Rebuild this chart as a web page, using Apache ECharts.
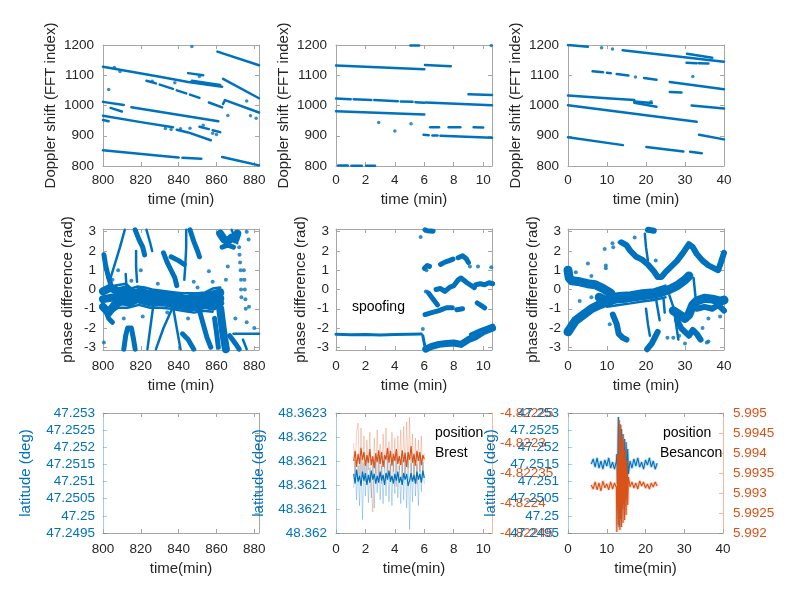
<!DOCTYPE html>
<html><head><meta charset="utf-8">
<script src="https://cdn.jsdelivr.net/npm/echarts@6/dist/echarts.min.js"></script>
<style>html,body{margin:0;padding:0;background:#fff}#c{width:800px;height:600px}</style>
</head><body><div id="c"></div>
<script>
// ---------- tick values / labels ----------
const xTicksA = [800, 820, 840, 860, 880];
const xLabelsA = ['800', '820', '840', '860', '880'];
const xTicksB = [0, 2, 4, 6, 8, 10];
const xLabelsB = ['0', '2', '4', '6', '8', '10'];
const xTicksC = [0, 10, 20, 30, 40];
const xLabelsC = ['0', '10', '20', '30', '40'];
const dopplerTicks = [800, 900, 1000, 1100, 1200];
const dopplerLabels = ['800', '900', '1000', '1100', '1200'];
const phaseTicks = [-3, -2, -1, 0, 1, 2, 3];
const phaseLabels = ['-3', '-2', '-1', '0', '1', '2', '3'];
const latTicksBes = [47.2495, 47.25, 47.2505, 47.251, 47.2515, 47.252, 47.2525, 47.253];
const latLabelsBes = ['47.2495', '47.25', '47.2505', '47.251', '47.2515', '47.252', '47.2525', '47.253'];
const latTicksBrest = [48.362, 48.36205, 48.3621, 48.36215, 48.3622, 48.36225];
const latLabelsBrest = ['48.362', '48.3621', '48.3621', '48.3621', '48.3622', '48.3623'];
const lonTicksBrest = [-4.82245, -4.8224, -4.82235, -4.8223, -4.82225];
const lonLabelsBrest = ['-4.82245', '-4.8224', '-4.82235', '-4.8223', '-4.82225'];
const lonTicksBes = [5.992, 5.9925, 5.993, 5.9935, 5.994, 5.9945, 5.995];
const lonLabelsBes = ['5.992', '5.9925', '5.993', '5.9935', '5.994', '5.9945', '5.995'];
const emptyRightTicks = [0, 1, 2, 3, 4, 5, 6];

// ---------- Doppler tracks (time, FFT index) ----------
const doppler1Tracks = [
  [[860.5,1178],[882.5,1133]],
  [[800,1128],[812,1115],[830,1095],[845,1078],[863,1062]],
  [[823,1082],[828,1073]], [[830,1069],[837,1055]], [[839,1050],[844,1040]],
  [[846,1036],[851,1025]], [[856,1010],[863,994]],
  [[845,1107],[853,1100]],
  [[847,1082],[862,1068]],
  [[863.5,1088],[882.5,1024]],
  [[863.5,1005],[864.5,1018],[882.5,977]],
  [[800,1012],[811,1002]],
  [[815,994],[861,948]],
  [[804,992],[810,980]],
  [[800,966],[820,945],[837,928]],
  [[839,920],[845,911],[857,885]],
  [[800,952],[803,948]],
  [[800,852],[815,843],[830,834],[840,828]],
  [[842,827],[852,824]],
  [[863,830],[870,820],[882.5,802]],
  [[851,930],[856,922]], [[858,918],[862,912]]
];
const doppler1Dots = [[847,1195],[803,1053],[876,1015],[878,966],[881,958],[866,967],[833,924],[836,921],[841,923],[846,925],[853,935],[858,908],[860,904],[806,1126],[809,1112],[851,1096],[826,1080],[838,1075]];

const doppler2Tracks = [
  [[0,1132],[6,1120]],
  [[6.05,1134],[7.8,1130]],
  [[0,1023],[1.0,1021]], [[1.2,1021],[2.4,1018]], [[2.6,1018],[4.2,1014]],
  [[4.4,1013],[5.2,1012]], [[5.4,1011],[6,1009]],
  [[6.1,1010],[10.6,1001]],
  [[0,981],[6,970]],
  [[9.0,1037],[10.6,1035]],
  [[5.95,903],[6.3,902]], [[6.55,901],[6.9,901]], [[7.1,900],[10.6,893]],
  [[6.4,928],[7.0,928]], [[7.65,928],[8.45,928]], [[9.35,928],[10.0,927]],
  [[0.15,802],[0.8,802]], [[1.05,801],[1.75,801]], [[2.05,801],[2.65,801]],
  [[5.05,1198],[5.65,1198]]
];
const doppler2Dots = [[2.9,944],[4.0,916],[5.1,940],[10.55,1198]];

const doppler3Tracks = [
  [[0,1200],[5.1,1194]],
  [[14,1183],[40,1145]],
  [[30.5,1171],[37,1158]],
  [[30.4,1141],[33,1140]], [[33.5,1140],[36,1139]],
  [[6.3,1113],[9,1110]], [[10,1108],[11,1107]], [[12.5,1104],[15.5,1099]], [[19.5,1091],[22.7,1085]],
  [[26.1,1078],[40,1054]],
  [[26.1,1045],[29.1,1043]],
  [[0,1033],[10,1024],[17,1018]],
  [[17,1013],[21.5,1008]],
  [[17,1009],[22.7,996]],
  [[0,1001],[33,946]],
  [[31.7,1000],[40,990]],
  [[0,895],[14.1,869]],
  [[20.1,863],[29.6,848]],
  [[31.3,847],[34.3,842]],
  [[33.6,903],[40,888]]
];
const doppler3Dots = [[8.6,1191],[11.4,1187],[32,1096],[17.3,1094],[21.3,1012]];

// ---------- phase difference clouds (time, rad) ----------
const phase1Heavy = [
  [[800,-0.1],[804,0.1],[808,-0.1],[812,0.0],[816,-0.2],[820,-0.1],[824,-0.25],[828,-0.2],[832,-0.3],[836,-0.35],[840,-0.4],[844,-0.5],[848,-0.4],[852,-0.45],[856,-0.3],[860,-0.2],[862,-0.15]],
  [[800,-0.5],[806,-0.4],[812,-0.3],[818,-0.35],[824,-0.45],[830,-0.45],[836,-0.55],[842,-0.6],[848,-0.65],[854,-0.6],[860,-0.5],[862,-0.45]],
  [[800,-0.9],[803,-1.2],[806,-0.8],[810,-0.6],[814,-0.7],[818,-0.5],[822,-0.6],[826,-0.7],[830,-0.65],[834,-0.7],[838,-0.8],[842,-0.85],[846,-0.95],[850,-0.9],[854,-0.8],[858,-0.9],[862,-0.7]],
  [[862,-1.0],[863,-1.8],[864,-2.5],[865,-3.1]],
  [[862,2.9],[864,2.6],[866,2.5],[868,2.7],[870,2.6],[871,2.9]]
];
const phase1Medium = [
  [[800.5,1.8],[801.5,1.2],[803,0.6],[805,0.0]],
  [[832,1.9],[834,1.4],[836,1.0],[838,0.6],[839,0.2]],
  [[846,3.1],[848,2.5],[850,2.0],[851,1.7]],
  [[836,1.7],[840,1.5],[843,1.3]],
  [[811,-3.1],[812,-2.4],[813,-2.0],[815,-2.0],[816,-2.5],[817,-3.1]],
  [[842,-2.3],[845,-2.6],[848,-3.1]],
  [[851,-1.1],[853,-1.8],[855,-2.5],[857,-3.0]],
  [[859,-1.5],[860,-2.2],[861,-3.0]],
  [[867,-2.4],[870,-2.8],[872,-3.1]],
  [[817,3.1],[819,2.6],[821,2.2],[822,1.8]],
  [[863,2.2],[866,2.3],[869,2.2]],
  [[801,-1.0],[803,-1.5],[805,-1.7]]
];
const phase1Light = [
  [[811.5,3.1],[809,2.2],[806.5,1.4],[804,0.6]],
  [[823,3.1],[825,2.4],[826,2.0]],
  [[817.5,2.0],[817.5,1.2],[818,0.4]],
  [[844,3.1],[844,2.2],[843.5,1.2],[843,0.5]],
  [[826.5,-0.9],[825,-2.0],[823.5,-3.1]],
  [[828,-3.1],[832,-2.0],[837,-0.9]],
  [[837,-0.9],[839,-2.0],[841,-3.1]],
  [[874,-2.6],[876,-3.1]],
  [[869,-2.3],[882.5,-2.3]],
  [[868,3.1],[871,2.4]],
  [[812,0.8],[812.5,0.0]],
  [[806,0.2],[809,0.25],[812,0.3],[815,0.05],[818,0.15],[822,0.1],[826,0.0],[830,-0.05],[834,-0.1],[838,-0.15],[842,-0.2],[846,-0.2],[850,-0.2],[854,-0.15],[858,0.05],[862,0.1]],
  [[802,-1.35],[808,-0.95],[813,-0.95],[819,-0.8],[825,-0.95],[831,-0.95],[836,-1.0],[842,-1.1],[848,-1.2],[853,-1.1],[858,-1.15]]
];
const phase1Dots = [[872,2.2],[872.2,1.8],[872.5,1.4],[872.8,1.0],[873,0.5],[873,0.0],[873.2,-0.4],[874.5,1.0],[874.8,0.5],[875,0.0],[875.3,-0.5],[875.5,-1.0],[876,3.0],[877,2.6],[877.2,-0.9],[800.5,-2.75],[856,0.95],[866,1.2],[865,0.5],[848,0.4],[850,0.1],[834,-1.2],[820,1.0],[808,1.0],[876,-1.7],[880,-2.0],[870,-1.5],[858,0.4],[805,0.5],[815,0.45],[829,0.3],[839,0.3],[845,-1.5],[821,-1.4],[811,-1.5]];

const phase2Heavy = [
  [[6.1,-3.1],[6.5,-2.95],[7.0,-2.85],[7.5,-2.8],[8.0,-2.78],[8.5,-2.85],[9.0,-2.6],[9.5,-2.45],[10.0,-2.2],[10.65,-2.0]]
];
const phase2Medium = [
  [[6.0,1.1],[6.2,1.25],[6.35,1.2]],
  [[7.1,1.3],[7.4,1.42],[7.7,1.5],[7.95,1.58]],
  [[8.3,1.65],[8.6,1.75],[8.85,1.6],[9.0,1.4]],
  [[6.3,-0.2],[6.5,-0.4],[6.7,-0.6],[6.9,-0.8]],
  [[6.8,0.0],[7.1,0.05],[7.4,-0.1],[7.7,0.1],[8.0,0.2],[8.3,0.5],[8.5,0.6],[8.9,0.35],[9.2,0.2],[9.4,0.1]],
  [[9.5,0.25],[9.8,0.3],[10.1,0.25],[10.4,0.35],[10.65,0.3]],
  [[6.05,-1.3],[6.5,-1.2],[7.0,-1.1],[7.5,-0.95],[7.9,-0.95]],
  [[8.2,-1.05],[8.6,-1.0]],
  [[9.6,-0.7],[9.9,-0.85],[10.1,-0.95]],
  [[9.2,-2.35],[9.8,-2.15],[10.3,-2.0],[10.65,-1.9]],
  [[6.05,3.1],[6.2,3.05],[6.6,3.03]]
];
const phase2Light = [
  [[0,-2.33],[1,-2.35],[2,-2.34],[3,-2.36],[4,-2.34],[5,-2.33],[5.8,-2.31]],
  [[5.9,-2.4],[6.0,-2.8],[6.1,-3.14]]
];
const phase2Dots = [[5.9,-2.05],[5.75,2.72],[9.65,1.2],[10.55,1.15],[6.1,-0.1],[6.2,-0.12],[9.1,1.2],[6.15,1.0]];

const phase3Heavy = [
  [[0,-2.2],[1,-1.9],[2,-1.6],[4,-1.3],[6,-1.0],[8,-0.8],[10,-0.65],[12,-0.5],[14,-0.4]],
  [[27,-1.1],[28.5,-1.3],[30,-1.5],[31,-1.3],[32,-0.8],[33,-0.6],[35,-0.45],[37,-0.5],[39,-0.6],[40,-0.55]],
  [[0,1.0],[0.3,0.6],[1,0.45],[3,0.4],[5,0.3],[7,0.25],[9,0.05],[11,-0.2]],
  [[8,-0.4],[10,-0.6],[12,-0.5],[15,-0.45],[18,-0.35],[20,-0.3],[22,-0.25],[24,-0.15],[26,0.0],[28,0.2],[30,0.5],[31,0.7]]
];
const phase3Medium = [
  [[13.7,2.45],[15,2.3],[16,2.0],[17.5,1.7],[19,1.55],[20.5,1.3],[22,0.95],[23,0.65],[24,0.65],[25,0.9],[26.5,1.2],[28,1.5],[29.5,1.9],[31,2.35],[32,2.2],[33,1.85],[34.5,1.5],[36,1.25],[37.5,1.1],[38.5,1.0],[39.2,1.4],[40,1.9]],
  [[28,-1.6],[29,-2.0],[30,-2.2],[31,-2.4],[32,-2.1],[33,-2.3],[34,-2.6]],
  [[20.3,-3.1],[21.5,-2.8],[22.5,-2.4],[23,-2.2]],
  [[11.5,-1.3],[12.5,-1.8],[13,-2.3],[14,-2.5],[15,-2.6]],
  [[33,-1.0],[35,-0.9],[37,-1.0],[38.5,-0.8],[40,-1.1]],
  [[20.5,3.1],[22,3.05]]
];
const phase3Light = [
  [[19.7,2.9],[20.0,2.2],[20.5,1.5]],
  [[20,-1.0],[20.5,-1.8],[21,-2.4]],
  [[22.5,-0.4],[23,-1.0],[23.5,-1.6]],
  [[24.5,-0.5],[24.8,-1.2]],
  [[26,-0.3],[27,-0.9],[27.5,-1.5],[28,-2.2],[28.3,-2.6]],
  [[32.2,0.6],[32.6,-0.2],[33,-1.0]],
  [[10,-0.3],[13,-0.2],[16,-0.15],[19,-0.05],[22,0.0],[25,0.2]],
  [[10,-0.9],[13,-0.8],[16,-0.72],[19,-0.62],[22,-0.55],[25,-0.4]]
];
const phase3Dots = [[9.4,2.1],[11.4,2.4],[11.6,2.2],[5.1,1.35],[9.7,1.25],[9.7,1.1],[10.7,-1.8],[17.1,2.7],[27,-2.5],[28.5,-2.4],[35.6,-2.75],[36,-2.7],[25.5,-2.5],[13.2,2.45],[22.5,1.5],[34.5,-2.0],[30,-2.8],[3,-0.6],[6,-0.4],[2,0.9],[6,0.7],[36,-1.5],[39,-1.4]];

// ---------- position, Brest (time, lat / lon) ----------
const timeBrest = [1.2,1.3,1.4,1.5,1.6,1.7,1.8,1.9,2.0,2.1,2.2,2.3,2.4,2.5,2.6,2.7,2.8,2.9,3.0,3.1,3.2,3.3,3.4,3.5,3.6,3.7,3.8,3.9,4.0,4.1,4.2,4.3,4.4,4.5,4.6,4.7,4.8,4.9,5.0,5.1,5.2,5.3,5.4,5.5,5.6,5.7,5.8,5.9,6.0];
const latBrest = [48.362123,48.362103,48.362132,48.362107,48.362119,48.362098,48.362128,48.362109,48.362125,48.362100,48.362121,48.362105,48.362130,48.362111,48.362123,48.362103,48.362119,48.362105,48.362128,48.362109,48.362121,48.362100,48.362125,48.362111,48.362130,48.362107,48.362119,48.362103,48.362123,48.362109,48.362128,48.362105,48.362117,48.362100,48.362125,48.362111,48.362123,48.362098,48.362109,48.362125,48.362107,48.362121,48.362103,48.362128,48.362111,48.362123,48.362105,48.362130,48.362115];
const latBrestSpread = [48.362094,48.362152,48.362069,48.362140,48.362057,48.362157,48.362028,48.362146,48.362077,48.362161,48.362063,48.362136,48.362073,48.362148,48.362052,48.362157,48.362084,48.362165,48.362069,48.362140,48.362061,48.362152,48.362077,48.362161,48.362065,48.362144,48.362057,48.362157,48.362082,48.362167,48.362073,48.362140,48.362061,48.362152,48.362069,48.362169,48.362052,48.362157,48.362007,48.362146,48.362065,48.362161,48.362077,48.362144,48.362057,48.362157,48.362086,48.362148,48.362103];
const lonBrest = [-4.822330,-4.822313,-4.822340,-4.822318,-4.822335,-4.822308,-4.822328,-4.822315,-4.822338,-4.822320,-4.822333,-4.822310,-4.822337,-4.822322,-4.822342,-4.822317,-4.822332,-4.822312,-4.822335,-4.822315,-4.822340,-4.822320,-4.822328,-4.822308,-4.822333,-4.822313,-4.822338,-4.822318,-4.822330,-4.822310,-4.822335,-4.822322,-4.822337,-4.822312,-4.822332,-4.822317,-4.822340,-4.822315,-4.822328,-4.822305,-4.822333,-4.822318,-4.822338,-4.822313,-4.822330,-4.822315,-4.822337,-4.822320,-4.822327];
const lonBrestSpread = [-4.822300,-4.822355,-4.822283,-4.822267,-4.822358,-4.822275,-4.822350,-4.822288,-4.822365,-4.822295,-4.822345,-4.822282,-4.822375,-4.822415,-4.822292,-4.822352,-4.822278,-4.822362,-4.822302,-4.822368,-4.822285,-4.822342,-4.822275,-4.822355,-4.822298,-4.822365,-4.822282,-4.822348,-4.822292,-4.822372,-4.822288,-4.822345,-4.822278,-4.822358,-4.822272,-4.822352,-4.822265,-4.822342,-4.822257,-4.822362,-4.822285,-4.822355,-4.822292,-4.822368,-4.822295,-4.822348,-4.822288,-4.822358,-4.822317];

// ---------- position, Besancon (time, lat / lon) ----------
const timeBes = [6.0,6.5,7.0,7.5,8.0,8.5,9.0,9.5,10.0,10.5,11.0,11.5,12.0,12.5,12.6,12.8,13.0,13.2,13.4,13.6,13.8,14.0,14.2,14.4,14.6,14.8,15.0,15.2,15.4,15.6,16.0,16.5,17.0,17.5,18.0,18.5,19.0,19.5,20.0,20.5,21.0,21.5,22.0,22.5,23.0];
const latBes = [47.25151,47.25166,47.25142,47.25169,47.25139,47.25160,47.25136,47.25163,47.25145,47.25169,47.25139,47.25157,47.25136,47.25160,47.25180,47.25093,47.25288,47.24967,47.25268,47.24991,47.25253,47.25020,47.25239,47.25034,47.25224,47.25049,47.25215,47.25069,47.25195,47.25122,47.25160,47.25139,47.25166,47.25145,47.25169,47.25142,47.25157,47.25136,47.25163,47.25148,47.25169,47.25142,47.25160,47.25136,47.25154];
const lonBes = [5.9932,5.9931,5.99328,5.99308,5.99325,5.99305,5.9933,5.99313,5.99323,5.99308,5.99328,5.9931,5.99325,5.99313,5.992025,5.99395,5.9922,5.994825,5.992075,5.9947,5.99215,5.99445,5.99225,5.994325,5.992325,5.994075,5.99245,5.993825,5.9927,5.9934,5.99315,5.993275,5.993125,5.99325,5.9931,5.9933,5.993175,5.993275,5.993125,5.993225,5.9931,5.99325,5.99315,5.993275,5.993175];

// ---------- chart ----------
const FONT = "'Liberation Sans', Arial, Helvetica, sans-serif";
const BLUE = '#0072BD', ORANGE = '#D95319', GRAY = '#a6a6a6', TXT = '#262626';
const BLUE_LINE = 'rgba(0,114,189,0.35)', ORANGE_LINE = 'rgba(217,83,25,0.4)';
const TICK_FS = 13.5, NAME_FS = 15;

const grids = [
  {left:103, top:45, width:156, height:121}, {left:336, top:45, width:156, height:121}, {left:568, top:45, width:156, height:121},
  {left:103, top:229, width:156, height:121}, {left:336, top:229, width:156, height:121}, {left:568, top:229, width:156, height:121},
  {left:103, top:413, width:156, height:120}, {left:336, top:413, width:156, height:120}, {left:568, top:413, width:155, height:120}
].map(g => Object.assign(g, {outerBoundsMode:'none', containLabel:false}));

function labelFmt(ticks, labels) {
  return v => { let bi = 0, bd = Infinity; ticks.forEach((t, i) => { const d = Math.abs(t - v); if (d < bd) { bd = d; bi = i; } }); return labels[bi]; };
}
function axis(o) {
  const lc = o.lineColor || GRAY;
  return {
    type: 'value', gridIndex: o.g, position: o.pos, min: o.min, max: o.max,
    splitLine: {show: false},
    axisLine: {show: true, onZero: false, lineStyle: {color: lc, width: 1}},
    axisTick: {show: true, inside: true, length: 4, customValues: o.ticks, lineStyle: {color: lc, width: 1}},
    axisLabel: o.labels ? {show: true, customValues: o.ticks, formatter: labelFmt(o.ticks, o.labels), color: o.labelColor || TXT,
      fontSize: TICK_FS, fontFamily: FONT, margin: o.margin, hideOverlap: false} : {show: false},
    name: o.name || '', nameLocation: 'middle', nameGap: o.nameGap || 0, nameMoveOverlap: false,
    nameTextStyle: {color: o.nameColor || TXT, fontSize: NAME_FS, fontFamily: FONT}
  };
}
const xAxes = [], yAxes = [];
const cols = [
  {min:800, max:882.5, ticks:xTicksA, labels:xLabelsA},
  {min:0, max:10.6, ticks:xTicksB, labels:xLabelsB},
  {min:0, max:40, ticks:xTicksC, labels:xLabelsC}
];
const rowX = [
  {name:'time (min)', margin:7, gap:26.5},
  {name:'time (min)', margin:9.5, gap:28.5},
  {name:'time(min)', margin:9, gap:28.5}
];
for (let g = 0; g < 9; g++) {
  const c = cols[g % 3], r = rowX[Math.floor(g / 3)];
  xAxes.push(axis({g, pos:'bottom', min:c.min, max:c.max, ticks:c.ticks, labels:c.labels, margin:r.margin, name:r.name, nameGap:r.gap}));
  xAxes.push(axis({g, pos:'top', min:c.min, max:c.max, ticks:c.ticks}));
}
for (let g = 0; g < 3; g++) {
  yAxes.push(axis({g, pos:'left', min:800, max:1200, ticks:dopplerTicks, labels:dopplerLabels, margin:9, name:'Doppler shift (FFT index)', nameGap:45}));
  yAxes.push(axis({g, pos:'right', min:800, max:1200, ticks:dopplerTicks}));
}
for (let g = 3; g < 6; g++) {
  yAxes.push(axis({g, pos:'left', min:-Math.PI, max:Math.PI, ticks:phaseTicks, labels:phaseLabels, margin:7, name:'phase difference (rad)', nameGap:27.5}));
  yAxes.push(axis({g, pos:'right', min:-Math.PI, max:Math.PI, ticks:phaseTicks}));
}
// row 3
yAxes.push(axis({g:6, pos:'left', min:47.2495, max:47.253, ticks:latTicksBes, labels:latLabelsBes, margin:8, labelColor:BLUE, lineColor:BLUE_LINE, name:'latitude (deg)', nameGap:70, nameColor:BLUE}));
yAxes.push(axis({g:6, pos:'right', min:0, max:6, ticks:emptyRightTicks}));
yAxes.push(axis({g:7, pos:'left', min:48.362, max:48.36225, ticks:latTicksBrest, labels:latLabelsBrest, margin:9, labelColor:BLUE, lineColor:BLUE_LINE, name:'latitude (deg)', nameGap:70, nameColor:BLUE}));
yAxes.push(axis({g:7, pos:'right', min:-4.82245, max:-4.82225, ticks:lonTicksBrest, labels:lonLabelsBrest, margin:8, labelColor:ORANGE, lineColor:ORANGE_LINE}));
yAxes.push(axis({g:8, pos:'left', min:47.2495, max:47.253, ticks:latTicksBes, labels:latLabelsBes, margin:9, labelColor:BLUE, lineColor:BLUE_LINE, name:'latitude (deg)', nameGap:70, nameColor:BLUE}));
yAxes.push(axis({g:8, pos:'right', min:5.992, max:5.995, ticks:lonTicksBes, labels:lonLabelsBes, margin:10, labelColor:ORANGE, lineColor:ORANGE_LINE}));

const series = [];
function addLines(g, segs, width) {
  segs.forEach(s => series.push({type:'line', xAxisIndex:2*g, yAxisIndex:2*g, data:s, symbol:'none', showSymbol:false,
    lineStyle:{color:BLUE, width, cap:'round', join:'round'}, silent:true, animation:false, clip:true}));
}
function addDots(g, pts, size) {
  series.push({type:'scatter', xAxisIndex:2*g, yAxisIndex:2*g, data:pts, symbolSize:size || 4, itemStyle:{color:BLUE}, silent:true, animation:false, clip:true});
}
addLines(0, doppler1Tracks, 2.5); addDots(0, doppler1Dots, 3.5);
addLines(1, doppler2Tracks, 2.5); addDots(1, doppler2Dots, 3.5);
addLines(2, doppler3Tracks, 2.5); addDots(2, doppler3Dots, 3.5);
addLines(3, phase1Heavy, 8); addLines(3, phase1Medium, 5); addLines(3, phase1Light, 2.5); addDots(3, phase1Dots, 4);
addLines(4, phase2Heavy, 7); addLines(4, phase2Medium, 5); addLines(4, phase2Light, 3); addDots(4, phase2Dots, 4);
addLines(5, phase3Heavy, 9); addLines(5, phase3Medium, 6); addLines(5, phase3Light, 2.5); addDots(5, phase3Dots, 4);

function posLine(g, yIdx, xs, ys, color, width, opacity) {
  series.push({type:'line', xAxisIndex:2*g, yAxisIndex:2*g + yIdx, data:xs.map((t, i) => [t, ys[i]]), symbol:'none', showSymbol:false,
    lineStyle:{color, width, opacity}, silent:true, animation:false, clip:true});
}
posLine(7, 0, timeBrest, latBrestSpread, BLUE, 0.9, 0.3);
posLine(7, 1, timeBrest, lonBrestSpread, ORANGE, 0.9, 0.3);
posLine(7, 0, timeBrest, latBrest, BLUE, 1.2, 1);
posLine(7, 1, timeBrest, lonBrest, ORANGE, 1.2, 1);
posLine(8, 0, timeBes, latBes, BLUE, 3, 0.25);
posLine(8, 0, timeBes, latBes, BLUE, 1.1, 1);
posLine(8, 1, timeBes, lonBes, ORANGE, 3, 0.25);
posLine(8, 1, timeBes, lonBes, ORANGE, 1.1, 1);

const chart = echarts.init(document.getElementById('c'), null, {renderer:'canvas'});
chart.setOption({
  animation: false,
  backgroundColor: '#fff',
  textStyle: {fontFamily: FONT},
  grid: grids,
  xAxis: xAxes,
  yAxis: yAxes,
  series: series,
  graphic: [
    {type:'text', left:352, top:300, style:{text:'spoofing', fill:'#000', font:'14px ' + FONT}, silent:true},
    {type:'text', left:435, top:426, style:{text:'position', fill:'#000', font:'14px ' + FONT}, silent:true},
    {type:'text', left:435, top:446, style:{text:'Brest', fill:'#000', font:'14px ' + FONT}, silent:true},
    {type:'text', left:663, top:426, style:{text:'position', fill:'#000', font:'14px ' + FONT}, silent:true},
    {type:'text', left:660, top:446, style:{text:'Besancon', fill:'#000', font:'14px ' + FONT}, silent:true}
  ]
});
</script></body></html>
